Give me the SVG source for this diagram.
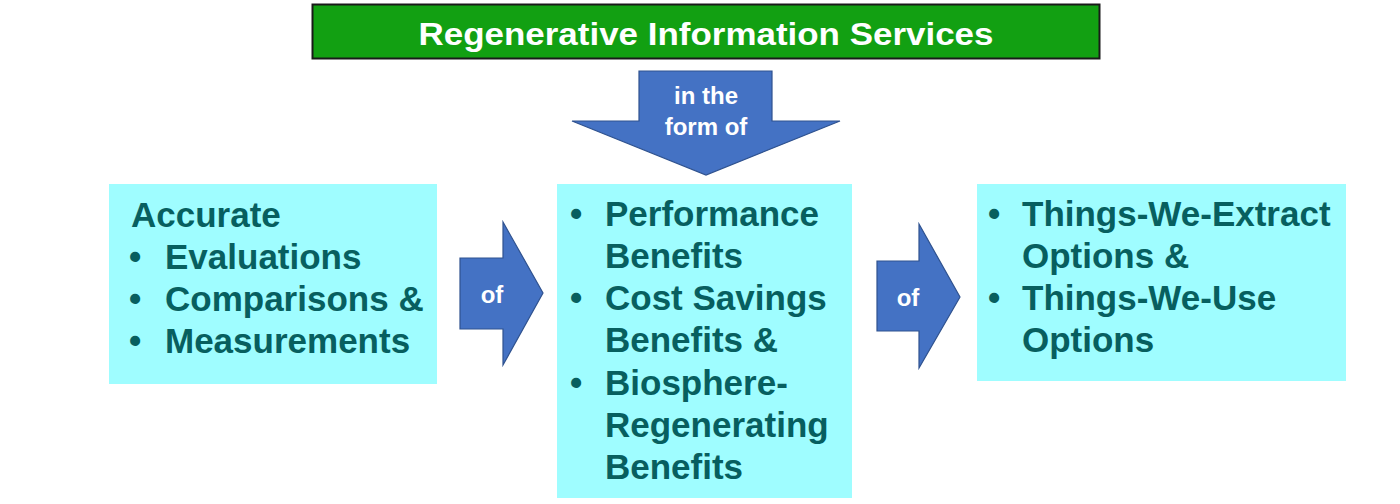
<svg xmlns="http://www.w3.org/2000/svg" width="1400" height="504" viewBox="0 0 1400 504">
<style>
.box{fill:#9ffdff}
.t{font-family:"Liberation Sans",Arial,sans-serif;font-weight:bold;font-size:35px;fill:#075f5f}
.arr{fill:#4472c4;stroke:#2f528f;stroke-width:1.2}
.w{font-family:"Liberation Sans",Arial,sans-serif;font-weight:bold;fill:#ffffff;text-anchor:middle}
</style>
<rect width="1400" height="504" fill="#ffffff"/>
<g id="title">
<rect x="312.5" y="4.5" width="787" height="54" fill="#12a012" stroke="#1a1a1a" stroke-width="2"/>
<text class="w" x="706" y="45" font-size="32" textLength="575" lengthAdjust="spacingAndGlyphs">Regenerative Information Services</text>
</g>
<g id="connectors">
<g id="arrow-down">
<polygon class="arr" points="639,71 772,71 772,121 840,121 706,175 572,121 639,121"/>
<text class="w" x="706" y="104" font-size="24">in the</text>
<text class="w" x="706" y="135" font-size="24">form of</text>
</g>
<g id="arrow-left">
<polygon class="arr" points="460,258 503,258 503,222 543,293 503,365 503,329 460,329"/>
<text class="w" x="492" y="303" font-size="24">of</text>
</g>
<g id="arrow-right">
<polygon class="arr" points="877,261 919,261 919,224 960,297 919,368 919,331 877,331"/>
<text class="w" x="908" y="306" font-size="24">of</text>
</g>
</g>
<g id="node-left">
<rect class="box" x="109" y="184" width="328" height="200"/>
<text class="t" x="131" y="227">Accurate</text>
<text class="t" x="129" y="269">•</text>
<text class="t" x="165" y="269">Evaluations</text>
<text class="t" x="129" y="311">•</text>
<text class="t" x="165" y="311">Comparisons &amp;</text>
<text class="t" x="129" y="353">•</text>
<text class="t" x="165" y="353">Measurements</text>
</g>
<g id="node-middle">
<rect class="box" x="557" y="184" width="295" height="314"/>
<text class="t" x="570" y="226">•</text>
<text class="t" x="605" y="226">Performance</text>
<text class="t" x="605" y="268">Benefits</text>
<text class="t" x="570" y="310">•</text>
<text class="t" x="605" y="310">Cost Savings</text>
<text class="t" x="605" y="352">Benefits &amp;</text>
<text class="t" x="570" y="395">•</text>
<text class="t" x="605" y="395">Biosphere-</text>
<text class="t" x="605" y="437">Regenerating</text>
<text class="t" x="605" y="479">Benefits</text>
</g>
<g id="node-right">
<rect class="box" x="977" y="184" width="369" height="197"/>
<text class="t" x="988" y="226">•</text>
<text class="t" x="1022" y="226">Things-We-Extract</text>
<text class="t" x="1022" y="268">Options &amp;</text>
<text class="t" x="988" y="310">•</text>
<text class="t" x="1022" y="310">Things-We-Use</text>
<text class="t" x="1022" y="352">Options</text>
</g>
</svg>
